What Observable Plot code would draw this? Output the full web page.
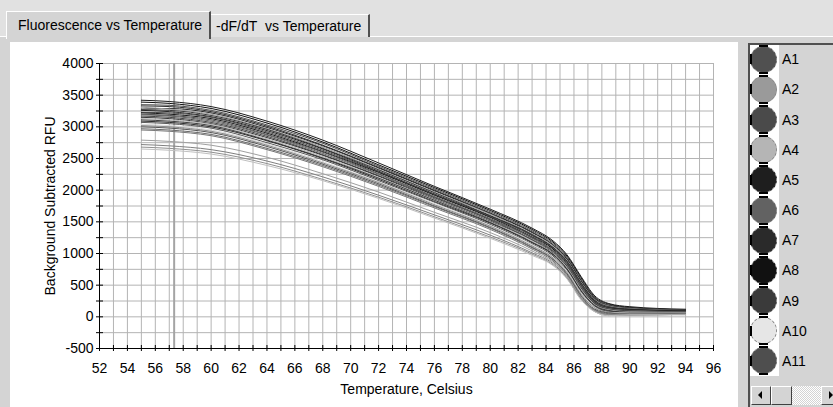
<!DOCTYPE html>
<html>
<head>
<meta charset="utf-8">
<script src="https://cdn.jsdelivr.net/npm/d3@7"></script>
<script src="https://cdn.jsdelivr.net/npm/@observablehq/plot@0.6"></script>
<style>
html,body{margin:0;padding:0;}
body{width:833px;height:407px;overflow:hidden;background:#d4d4d4;position:relative;font-family:"Liberation Sans",Arial,sans-serif;font-size:14px;color:#000;}
.abs{position:absolute;box-sizing:border-box;}
#strip{left:0;top:0;width:833px;height:37px;background:#e1e1e1;border-bottom:1px solid #fff;}
#tab1{left:6px;top:11px;width:205px;height:28px;background:#d4d4d4;border-left:1px solid #fff;border-top:1px solid #fff;border-right:2px solid #505050;padding-left:11px;line-height:26px;white-space:nowrap;}
#tab2{left:211px;top:14px;width:159px;height:23px;background:#e1e1e1;border-top:1px solid #fff;border-right:2px solid #505050;padding-left:5px;line-height:22px;white-space:nowrap;}
#panel{left:10px;top:42px;width:728px;height:365px;background:#fff;}
#chart{position:absolute;left:0;top:0;}
#legend{left:748px;top:43px;width:85px;height:364px;border-left:2px solid #505050;border-top:2px solid #505050;background:#d4d4d4;}
#lcol{left:750px;top:45px;width:29px;height:331px;background:#fff;}
.dot{position:absolute;width:27px;height:27px;border-radius:50%;box-sizing:border-box;border:1px dashed #8a8a8a;}
.mk{position:absolute;background:#000;}
.lab{position:absolute;left:782px;line-height:16px;height:16px;white-space:nowrap;}
.btn{position:absolute;top:386px;height:19px;background:#d4d4d4;box-sizing:border-box;border-top:1px solid #fff;border-left:1px solid #fff;border-right:1px solid #404040;border-bottom:1px solid #404040;}
#track{position:absolute;top:386px;left:792px;width:29px;height:19px;background-image:repeating-conic-gradient(#fff 0 25%,#d4d4d4 0 50%);background-size:2px 2px;}
.tri{position:absolute;width:0;height:0;}
</style>
</head>
<body>
<div id="strip" class="abs"></div>
<div id="tab1" class="abs">Fluorescence vs Temperature</div>
<div id="tab2" class="abs">-dF/dT&nbsp;&nbsp;vs Temperature</div>
<div id="panel" class="abs"></div>
<div id="chart"></div>
<div id="legend" class="abs"></div>
<div id="lcol" class="abs"></div>
<div id="legitems"></div>
<div class="btn" style="left:751px;width:20px;"><div class="tri" style="left:6px;top:4px;border-top:4px solid transparent;border-bottom:4px solid transparent;border-right:4px solid #000;"></div></div>
<div class="btn" style="left:771px;width:21px;"></div>
<div id="track"></div>
<div class="btn" style="left:821px;width:20px;"><div class="tri" style="left:7px;top:4px;border-top:4px solid transparent;border-bottom:4px solid transparent;border-left:4px solid #000;"></div></div>
<script>
// ---- data ----
const temps = [55, 57, 60, 64, 68, 72, 76, 80, 83, 84.5, 85.5, 86.5, 87.5, 88.5, 90, 94];
const wells = ["A5","A8","A1","B1","A7","A2","A9","B5","A3","B8","A11","A6","B3","B7","A4","B11","C1","B6","A10","B2","C3","B9","A12","B4","B12","C2","B10"];
const wellColors = ["#1e1e1e","#111111","#505050","#303030","#2a2a2a","#9a9a9a","#3a3a3a","#252525","#4a4a4a","#181818","#4e4e4e","#626262","#454545","#383838","#b5b5b5","#404040","#2e2e2e","#5a5a5a","#d8d8d8","#8a8a8a","#555555","#6a6a6a","#777777","#a0a0a0","#808080","#909090","#c0c0c0"];
const rfu = [
  [3420,3400,3320,3090,2790,2430,2060,1700,1400,1200,980,640,330,210,160,120],
  [3390,3370,3290,3060,2760,2400,2040,1680,1380,1180,960,620,310,200,150,110],
  [3350,3340,3260,3030,2740,2380,2020,1660,1360,1160,940,600,300,190,140,110],
  [3330,3320,3240,3010,2710,2360,2000,1640,1340,1140,920,580,290,180,140,110],
  [3280,3290,3220,2990,2700,2350,1990,1630,1330,1130,910,570,280,170,130,100],
  [3310,3280,3200,2970,2680,2330,1970,1620,1310,1120,890,550,270,170,130,100],
  [3270,3260,3180,2960,2660,2320,1960,1600,1300,1100,880,540,260,160,120,100],
  [3260,3240,3160,2940,2650,2300,1940,1590,1290,1090,870,530,250,150,120,90],
  [3230,3220,3150,2920,2630,2290,1930,1580,1280,1080,860,520,240,150,110,90],
  [3220,3200,3130,2900,2610,2280,1920,1570,1260,1070,840,500,230,140,110,90],
  [3200,3180,3110,2880,2600,2260,1900,1550,1250,1050,830,490,220,130,100,80],
  [3190,3170,3090,2870,2580,2250,1890,1540,1240,1040,820,480,220,130,100,80],
  [3170,3150,3070,2850,2560,2230,1880,1530,1220,1030,800,460,210,120,90,80],
  [3150,3130,3050,2830,2550,2220,1860,1510,1210,1010,790,450,200,110,90,70],
  [3130,3110,3040,2810,2530,2200,1850,1500,1200,1000,780,440,190,110,80,70],
  [3110,3090,3020,2790,2510,2190,1840,1490,1180,990,760,420,180,100,70,70],
  [3090,3070,3000,2780,2500,2170,1820,1480,1170,980,750,410,170,90,70,60],
  [3070,3050,2980,2750,2480,2150,1810,1460,1150,960,730,390,160,80,60,60],
  [3040,3020,2950,2730,2450,2130,1790,1440,1140,940,720,380,150,70,60,60],
  [3020,3000,2930,2710,2430,2120,1770,1430,1120,930,700,360,140,70,50,50],
  [3000,2980,2910,2690,2410,2100,1750,1410,1100,910,680,340,120,60,40,50],
  [2970,2950,2880,2660,2390,2080,1740,1400,1090,900,670,330,110,50,40,40],
  [2950,2930,2860,2640,2370,2060,1720,1380,1070,880,650,310,100,40,30,40],
  [2790,2770,2710,2520,2260,1970,1650,1330,1040,860,640,300,90,30,30,40],
  [2720,2700,2640,2460,2210,1920,1610,1290,1010,840,620,290,90,30,30,40],
  [2680,2660,2600,2420,2170,1890,1580,1260,990,820,610,280,80,20,30,40],
  [2650,2630,2570,2390,2150,1870,1560,1240,970,810,600,270,80,20,30,30]
];
const legendWells = ["A1","A2","A3","A4","A5","A6","A7","A8","A9","A10","A11"];
const legendColors = ["#505050","#9a9a9a","#4a4a4a","#b5b5b5","#1e1e1e","#626262","#2a2a2a","#111111","#3a3a3a","#e6e6e6","#4e4e4e"];
const xLabels = [52,54,56,58,60,62,64,66,68,70,72,74,76,78,80,82,84,86,88,90,92,94,96];
const yLabels = [-500,0,500,1000,1500,2000,2500,3000,3500,4000];
const xDomain = [52, 96];
const yDomain = [-500, 4000];
const cursorTemp = 57.35;
const xTitle = "Temperature, Celsius";
const yTitle = "Background Subtracted RFU";

const data = wells.flatMap((w, i) => temps.map((t, j) => ({well: w, t, v: rfu[i][j], color: wellColors[i]})));
const xMinor = d3.range(xDomain[0], xDomain[1] + 0.01, 1);
const yMinor = d3.range(yDomain[0], yDomain[1] + 0.01, 250);
const plain = d => String(d);

const chart = Plot.plot({
  width: 833, height: 407,
  marginLeft: 99, marginRight: 120, marginTop: 63, marginBottom: 59,
  style: {fontFamily: "'Liberation Sans', Arial, sans-serif", fontSize: "14px", background: "transparent", color: "#000", overflow: "visible"},
  x: {domain: xDomain, label: null},
  y: {domain: yDomain, label: null},
  color: {type: "identity"},
  marks: [
    Plot.gridX(xMinor, {stroke: "#b4b4b4", strokeOpacity: 1}),
    Plot.gridY(yMinor, {stroke: "#b4b4b4", strokeOpacity: 1}),
    Plot.ruleX([cursorTemp], {stroke: "#a4a4a4", strokeWidth: 2}),
    Plot.line(data, {x: "t", y: "v", z: "well", stroke: "color", strokeWidth: 1, curve: "monotone-x"}),
    Plot.ruleX([xDomain[0]], {stroke: "#000"}),
    Plot.ruleY([yDomain[0]], {stroke: "#000"}),
    Plot.axisY(yMinor, {tickSize: 7, dx: 4, fill: "none", stroke: "#000", label: null}),
    Plot.axisX(xMinor, {tickSize: 6, dy: -3, fill: "none", stroke: "#000", label: null}),
    Plot.axisY(yLabels, {tickSize: 0, tickPadding: 6, fill: "#000", label: null, tickFormat: plain}),
    Plot.axisX(xLabels, {tickSize: 0, tickPadding: 15, fill: "#000", label: null, tickFormat: plain}),
    Plot.text([xTitle], {frameAnchor: "bottom", dy: 45, text: d => d, fill: "#000", textAnchor: "middle"}),
    Plot.text([yTitle], {frameAnchor: "left", dx: -49, rotate: -90, text: d => d, fill: "#000", textAnchor: "middle"})
  ]
});
document.getElementById("chart").appendChild(chart);

// legend panel
const li = document.getElementById("legitems");
legendWells.forEach((w, i) => {
  const cy = 59.3 + 30.15 * i;
  const dot = document.createElement("div");
  dot.className = "dot";
  dot.style.left = "750px";
  dot.style.top = (cy - 13.5) + "px";
  dot.style.background = legendColors[i];
  li.appendChild(dot);
  const mkL = document.createElement("div");
  mkL.className = "mk";
  mkL.style.cssText = `left:750px;top:${cy - 5}px;width:2px;height:10px;`;
  li.appendChild(mkL);
  const mkT = document.createElement("div");
  mkT.className = "mk";
  mkT.style.cssText = `left:759px;top:${cy - 14.5}px;width:9px;height:2px;`;
  li.appendChild(mkT);
  const mkB = document.createElement("div");
  mkB.className = "mk";
  mkB.style.cssText = `left:759px;top:${cy + 12.5}px;width:9px;height:2px;`;
  li.appendChild(mkB);
  const lab = document.createElement("div");
  lab.className = "lab";
  lab.style.top = (cy - 8) + "px";
  lab.textContent = w;
  li.appendChild(lab);
});
</script>
</body>
</html>
